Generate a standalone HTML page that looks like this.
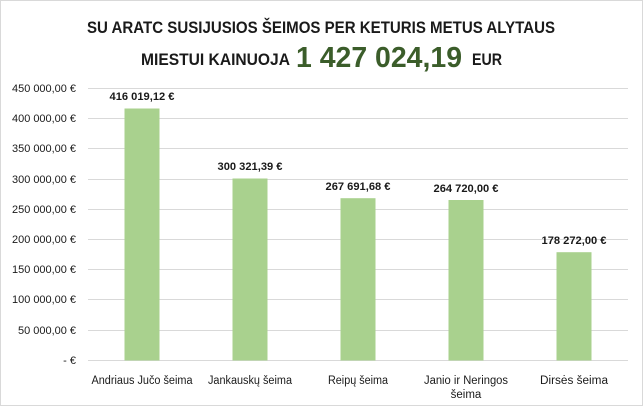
<!DOCTYPE html>
<html><head><meta charset="utf-8"><style>
body{margin:0;background:#fff}
svg{display:block;font-family:"Liberation Sans",sans-serif}
</style></head><body>
<svg width="643" height="406" viewBox="0 0 643 406">
<rect x="0.5" y="0.5" width="642" height="405" fill="#fff" stroke="#d9d9d9"/>
<g font-weight="bold" fill="#1a1a1a">
<text x="321" y="33" font-size="17" text-anchor="middle" textLength="468" lengthAdjust="spacingAndGlyphs">SU ARATC SUSIJUSIOS ŠEIMOS PER KETURIS METUS ALYTAUS</text>
<text x="141" y="65" font-size="17" textLength="149" lengthAdjust="spacingAndGlyphs">MIESTUI KAINUOJA</text>
<text x="296" y="67" font-size="29" fill="#3b5d2a" textLength="166" lengthAdjust="spacingAndGlyphs">1 427 024,19</text>
<text x="472" y="65" font-size="17" textLength="30" lengthAdjust="spacingAndGlyphs">EUR</text>
</g>
<g stroke="#d9d9d9" stroke-width="1">
<line x1="88" x2="628" y1="88.5" y2="88.5"/><line x1="88" x2="628" y1="118.5" y2="118.5"/>
<line x1="88" x2="628" y1="148.5" y2="148.5"/><line x1="88" x2="628" y1="179.5" y2="179.5"/>
<line x1="88" x2="628" y1="209.5" y2="209.5"/><line x1="88" x2="628" y1="239.5" y2="239.5"/>
<line x1="88" x2="628" y1="269.5" y2="269.5"/><line x1="88" x2="628" y1="299.5" y2="299.5"/>
<line x1="88" x2="628" y1="330.5" y2="330.5"/><line x1="88" x2="628" y1="360.5" y2="360.5"/>
</g>
<g font-size="11" fill="#1a1a1a" text-anchor="end">
<text x="76" y="92" textLength="64" lengthAdjust="spacingAndGlyphs">450 000,00 €</text><text x="76" y="122" textLength="64" lengthAdjust="spacingAndGlyphs">400 000,00 €</text>
<text x="76" y="152" textLength="64" lengthAdjust="spacingAndGlyphs">350 000,00 €</text><text x="76" y="183" textLength="64" lengthAdjust="spacingAndGlyphs">300 000,00 €</text>
<text x="76" y="213" textLength="64" lengthAdjust="spacingAndGlyphs">250 000,00 €</text><text x="76" y="243" textLength="64" lengthAdjust="spacingAndGlyphs">200 000,00 €</text>
<text x="76" y="273" textLength="64" lengthAdjust="spacingAndGlyphs">150 000,00 €</text><text x="76" y="303" textLength="64" lengthAdjust="spacingAndGlyphs">100 000,00 €</text>
<text x="76" y="334" textLength="58" lengthAdjust="spacingAndGlyphs">50 000,00 €</text><text x="76" y="364">-   €</text>
</g>
<g fill="#a9d18e">
<rect x="124.5" y="108.5" width="35" height="252"/>
<rect x="232.5" y="178.5" width="35" height="182"/>
<rect x="340.5" y="198.2" width="35" height="162.3"/>
<rect x="448.5" y="200" width="35" height="160.5"/>
<rect x="556.5" y="252.2" width="35" height="108.3"/>
</g>
<g font-size="11" font-weight="bold" fill="#1a1a1a" text-anchor="middle">
<text x="142" y="100" textLength="65" lengthAdjust="spacingAndGlyphs">416 019,12 €</text>
<text x="250" y="170" textLength="65" lengthAdjust="spacingAndGlyphs">300 321,39 €</text>
<text x="358" y="190" textLength="65" lengthAdjust="spacingAndGlyphs">267 691,68 €</text>
<text x="466" y="192" textLength="65" lengthAdjust="spacingAndGlyphs">264 720,00 €</text>
<text x="574" y="244" textLength="65" lengthAdjust="spacingAndGlyphs">178 272,00 €</text>
</g>
<g font-size="11.5" fill="#1a1a1a" text-anchor="middle">
<text x="142" y="384" textLength="101" lengthAdjust="spacingAndGlyphs">Andriaus Jučo šeima</text>
<text x="250" y="384" textLength="84" lengthAdjust="spacingAndGlyphs">Jankauskų šeima</text>
<text x="358" y="384" textLength="60" lengthAdjust="spacingAndGlyphs">Reipų šeima</text>
<text x="466" y="384" textLength="84" lengthAdjust="spacingAndGlyphs">Janio ir Neringos</text>
<text x="466" y="398">šeima</text>
<text x="574" y="384" textLength="68" lengthAdjust="spacingAndGlyphs">Dirsės šeima</text>
</g>
</svg>
</body></html>
